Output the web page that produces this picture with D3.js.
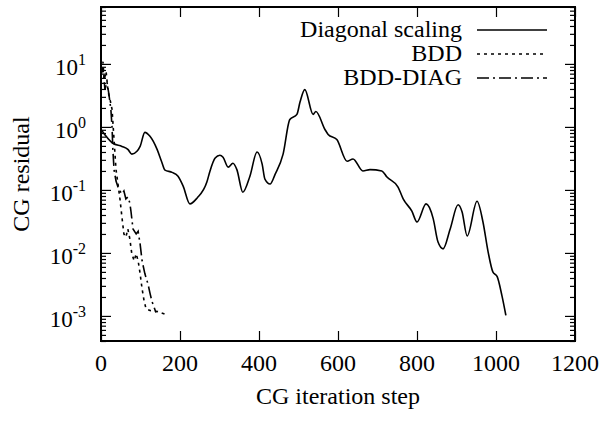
<!DOCTYPE html>
<html>
<head>
<meta charset="utf-8">
<script src="https://cdn.jsdelivr.net/npm/d3@7"></script>
<style>
  body { margin: 0; background: #fff; }
  text { font-family: "Liberation Serif", "Times New Roman", serif; fill: #000; }
</style>
</head>
<body>
<script>
'use strict';

// CG iteration step vs residual
var diagIter = [0, 30, 53, 68, 78, 91, 99, 111, 124, 142, 154, 162, 180, 195, 208, 225, 243, 268, 276, 289,
    301, 309, 322, 334, 344, 359, 377, 395, 408, 415, 428, 441, 461, 478, 496, 504, 516, 537, 544, 567,
    575, 597, 623, 638, 663, 681, 711, 724, 752, 765, 787, 800, 823, 841, 853, 866, 884, 904, 914, 927,
    952, 967, 980, 992, 1003, 1015, 1025];
var diagRes = [0.91, 0.55, 0.49, 0.44, 0.37, 0.41, 0.49, 0.82, 0.71, 0.44, 0.275, 0.206, 0.19, 0.165, 0.115, 0.060, 0.074, 0.133, 0.20, 0.32,
    0.355, 0.33, 0.23, 0.265, 0.21, 0.092, 0.165, 0.40, 0.256, 0.148, 0.124, 0.178, 0.37, 1.31, 1.58, 2.5, 3.9, 1.58, 1.76, 0.91,
    0.76, 0.63, 0.285, 0.31, 0.20, 0.21, 0.20, 0.16, 0.111, 0.072, 0.046, 0.031, 0.060, 0.035, 0.015, 0.0116, 0.024, 0.058, 0.045, 0.0186,
    0.066, 0.031, 0.0104, 0.005, 0.0042, 0.0021, 0.00102];

var bddIter = [0, 5, 8, 13, 18, 23, 28, 33, 38, 43, 48, 53, 58, 63, 68, 73, 78, 84, 89, 94, 99, 104, 109, 114, 124, 144, 165];
var bddRes = [8.1, 10.8, 5.6, 7.5, 3.6, 2.7, 1.9, 0.63, 0.21, 0.124, 0.072, 0.037, 0.020, 0.0178, 0.024, 0.0167, 0.0097, 0.0075,
    0.0097, 0.0075, 0.0047, 0.0027, 0.00175, 0.0013, 0.00122, 0.00117, 0.00105];

var bddDiagIter = [0, 5, 10, 15, 20, 25, 28, 30, 33, 38, 43, 48, 53, 58, 63, 68, 73, 76, 81, 89, 94, 99, 104, 111, 119, 124, 129, 134, 139];
var bddDiagRes = [6.7, 8.7, 3.9, 5.2, 3.3, 1.9, 0.98, 0.44, 0.21, 0.138, 0.111, 0.096, 0.086, 0.096, 0.072, 0.077, 0.062, 0.045,
    0.024, 0.020, 0.022, 0.0139, 0.0075, 0.0047, 0.0032, 0.0023, 0.0017, 0.0014, 0.00113];

var seriesNames = ['Diagonal scaling', 'BDD', 'BDD-DIAG'];
var xTicks = [0, 200, 400, 600, 800, 1000, 1200];
var yTicks = [-3, -2, -1, 0, 1];

(function() {
    var width = 605, height = 421;
    var pLeft = 101, pRight = 575, pTop = 7, pBottom = 341;
    var dashes = [null, '3,4', '12,4,2,4'];

    var svg = d3.select('body').append('svg')
        .attr('width', width)
        .attr('height', height);

    var x = d3.scaleLinear().domain([0, 1200]).range([pLeft, pRight]);
    var y = d3.scaleLog().domain([4e-4, 80]).range([pBottom, pTop]);

    // minor log ticks
    var minor = [];
    for (var e = -4; e <= 1; e++) {
        for (var m = 2; m <= 9; m++) {
            var v = m * Math.pow(10, e);
            if (v >= 4e-4 && v <= 80) minor.push(v);
        }
    }
    var major = yTicks.map(function(p) { return Math.pow(10, p); });

    function noDomain(g) { g.select('.domain').remove(); }

    function yAxisTicks(axisFn, xPos) {
        svg.append('g')
            .attr('transform', 'translate(' + xPos + ',0)')
            .call(axisFn(y).tickValues(major).tickSize(-10).tickFormat(''))
            .call(noDomain);
        svg.append('g')
            .attr('transform', 'translate(' + xPos + ',0)')
            .call(axisFn(y).tickValues(minor).tickSize(-5).tickFormat(''))
            .call(noDomain);
    }
    yAxisTicks(d3.axisLeft, pLeft);
    yAxisTicks(d3.axisRight, pRight);

    svg.append('g')
        .attr('transform', 'translate(0,' + pBottom + ')')
        .call(d3.axisBottom(x).tickValues(xTicks).tickSize(-10).tickFormat(''))
        .call(noDomain);
    svg.append('g')
        .attr('transform', 'translate(0,' + pTop + ')')
        .call(d3.axisTop(x).tickValues(xTicks).tickSize(-10).tickFormat(''))
        .call(noDomain);

    svg.selectAll('.tick line').attr('stroke', '#000').attr('stroke-width', 1.2);

    // frame
    svg.append('rect')
        .attr('x', pLeft).attr('y', pTop)
        .attr('width', pRight - pLeft).attr('height', pBottom - pTop)
        .attr('fill', 'none').attr('stroke', '#000').attr('stroke-width', 2);

    // tick labels
    svg.selectAll('.xlab')
        .data(xTicks)
        .enter().append('text')
        .attr('x', function(d) { return x(d); })
        .attr('y', 371)
        .attr('text-anchor', 'middle')
        .style('font-size', '24px')
        .text(function(d) { return d; });

    var yl = svg.selectAll('.ylab')
        .data(yTicks)
        .enter().append('text')
        .attr('x', 86)
        .attr('y', function(d) { return y(Math.pow(10, d)) + 11; })
        .attr('text-anchor', 'end')
        .style('font-size', '23px');
    yl.append('tspan').text('10');
    yl.append('tspan')
        .attr('dy', -10)
        .style('font-size', '16px')
        .text(function(d) { return d; });

    svg.append('text')
        .attr('x', (pLeft + pRight) / 2)
        .attr('y', 404)
        .attr('text-anchor', 'middle')
        .style('font-size', '24px')
        .text('CG iteration step');

    svg.append('text')
        .attr('transform', 'translate(29,' + ((pTop + pBottom) / 2) + ') rotate(-90)')
        .attr('text-anchor', 'middle')
        .style('font-size', '24px')
        .text('CG residual');

    // curves: the diagonal one is smooth, the BDD ones are jagged
    var smoothLine = d3.line()
        .curve(d3.curveMonotoneX)
        .x(function(d) { return x(d[0]); })
        .y(function(d) { return y(d[1]); });
    var line = d3.line()
        .x(function(d) { return x(d[0]); })
        .y(function(d) { return y(d[1]); });

    var series = [
        d3.zip(diagIter, diagRes),
        d3.zip(bddIter, bddRes),
        d3.zip(bddDiagIter, bddDiagRes)
    ];

    svg.selectAll('.curve')
        .data(series)
        .enter().append('path')
        .attr('class', 'curve')
        .attr('d', function(d, i) { return i === 0 ? smoothLine(d) : line(d); })
        .attr('fill', 'none')
        .attr('stroke', '#000')
        .attr('stroke-width', 1.6)
        .attr('stroke-dasharray', function(d, i) { return dashes[i]; });

    // legend
    var leg = svg.selectAll('.leg')
        .data(seriesNames)
        .enter().append('g')
        .attr('transform', function(d, i) { return 'translate(0,' + (30 + i * 24) + ')'; });
    leg.append('text')
        .attr('x', 462)
        .attr('y', 7)
        .attr('text-anchor', 'end')
        .style('font-size', '24px')
        .text(function(d) { return d; });
    leg.append('line')
        .attr('x1', 477).attr('x2', 547)
        .attr('y1', 0).attr('y2', 0)
        .attr('stroke', '#000')
        .attr('stroke-width', 1.6)
        .attr('stroke-dasharray', function(d, i) { return dashes[i]; });
})();
</script>
</body>
</html>
